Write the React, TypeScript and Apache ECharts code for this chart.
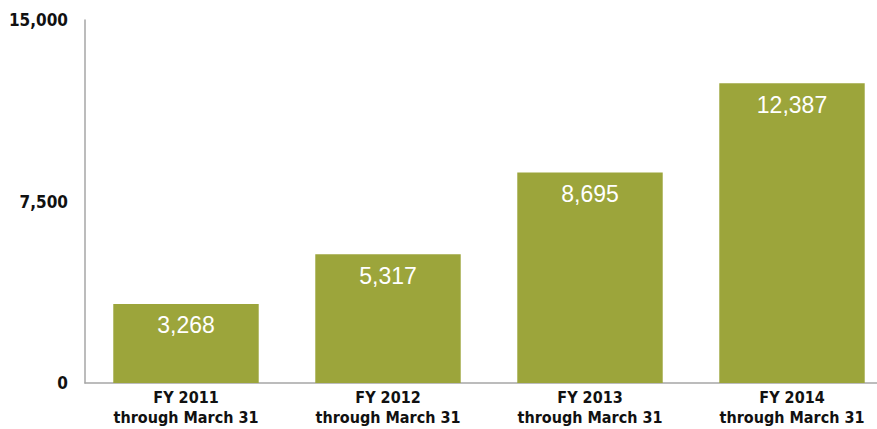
import React, { useEffect, useRef } from "react";
import * as echarts from "echarts";

const categories = ["FY 2011\nthrough March 31", "FY 2012\nthrough March 31", "FY 2013\nthrough March 31", "FY 2014\nthrough March 31"];
const values = [3268, 5317, 8695, 12387];
const yTicks = [0, 7500, 15000];

export default function App() {
  const ref = useRef<HTMLDivElement>(null);
  useEffect(() => {
    if (!ref.current) return;
    const chart = echarts.init(ref.current, null, { renderer: "svg" });
    chart.setOption({
      animation: false,
      backgroundColor: "#ffffff",
      grid: { left: 85, right: 7, top: 20, bottom: 46, containLabel: false },
      xAxis: {
        type: "category",
        data: categories,
        axisLine: { show: true, lineStyle: { color: "#a6a6a6", width: 1.5 } },
        axisTick: { show: false },
        axisLabel: {
          color: "#111",
          fontFamily: "'DejaVu Sans Condensed', sans-serif",
          fontWeight: "bold",
          fontSize: 16,
          lineHeight: 20,
          margin: 4,
          interval: 0,
        },
      },
      yAxis: {
        type: "value",
        min: 0,
        max: 15000,
        interval: 7500,
        splitLine: { show: false },
        axisLine: { show: true, lineStyle: { color: "#a6a6a6", width: 1.5 } },
        axisTick: { show: false },
        axisLabel: {
          color: "#111",
          fontFamily: "'DejaVu Sans Condensed', sans-serif",
          fontWeight: "bold",
          fontSize: 17,
          margin: 17,
          formatter: (v: number) => (yTicks.includes(v) ? v.toLocaleString("en-US") : ""),
        },
      },
      series: [
        {
          type: "bar",
          data: values,
          barCategoryGap: "28%",
          itemStyle: { color: "#9ca53b" },
          label: {
            show: true,
            position: "insideTop",
            distance: 10,
            color: "#ffffff",
            fontFamily: "'Liberation Sans', Arial, sans-serif",
            fontSize: 23,
            formatter: (p: any) => Number(p.value).toLocaleString("en-US"),
          },
        },
      ],
    });
    return () => chart.dispose();
  }, []);
  return (
    <div style={{ position: "absolute", left: 0, top: 0, width: 877, height: 429, overflow: "hidden", background: "#fff" }}>
      <div ref={ref} style={{ width: 900, height: 429 }} />
    </div>
  );
}
